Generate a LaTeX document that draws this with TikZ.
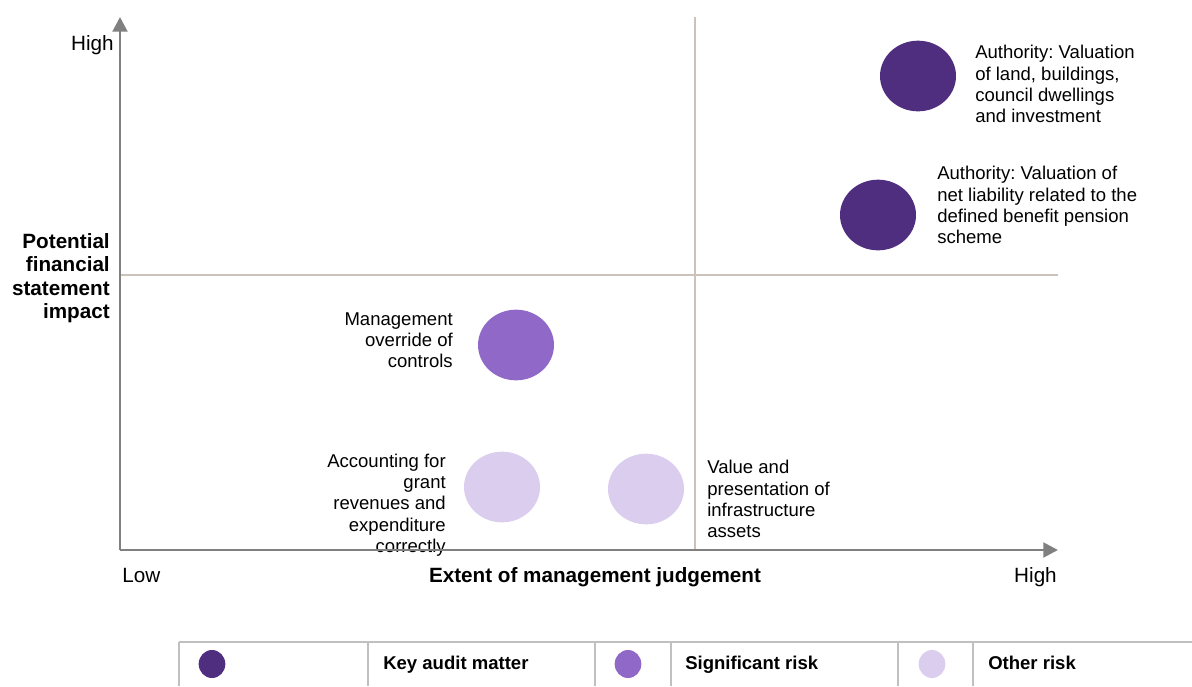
\documentclass[tikz,border=0pt]{standalone}
\usepackage{fontspec}
\setmainfont{Liberation Sans}
\frenchspacing
\usetikzlibrary{arrows.meta,shapes.geometric}
\definecolor{kamPurple}{HTML}{4F2D7F}
\definecolor{sigPurple}{HTML}{9069C8}
\definecolor{otherPurple}{HTML}{DBCDEE}
\definecolor{axisGrey}{HTML}{808080}
\definecolor{quadGrey}{HTML}{CBC3BA}
\definecolor{legendGrey}{HTML}{C0C0C0}

\begin{document}
\begin{tikzpicture}[x=0.75pt,y=-0.75pt,>={Triangle[length=11pt,width=11pt]},
    risk node/.style={ellipse,inner sep=0pt,minimum width=57pt,minimum height=53pt},
    dot node/.style={ellipse,inner sep=0pt,minimum width=20pt,minimum height=21pt},
    risk text/.style={inner sep=0pt,font=\fontsize{13.9}{15.9}\selectfont},
    axis text/.style={inner sep=0pt,font=\fontsize{15.5}{17.6}\selectfont},
    legend text/.style={inner sep=0pt,anchor=base west,font=\fontsize{13.9}{15.9}\selectfont\bfseries},
    axis/.style={->,draw=axisGrey,line width=2.2pt},
    quadrant/.style={draw=quadGrey,line width=1.1pt}]
    \useasboundingbox (0,0) rectangle (1192,686);

    % quadrants
    \coordinate (midTop) at (695,17);
    \coordinate (midBot) at (695,550);
    \coordinate (midLeft) at (120,275);
    \coordinate (midRight) at (1058,275);
    \draw[quadrant] (midTop) -- (midBot);
    \draw[quadrant] (midLeft) -- (midRight);

    % risks
    \node[risk node,fill=kamPurple] (kam1) at (918,76) {};
    \node[risk node,fill=kamPurple] (kam2) at (878,215) {};
    \node[risk node,fill=sigPurple] (mgmt) at (516,345) {};
    \node[risk node,fill=otherPurple] (grant) at (502,487) {};
    \node[risk node,fill=otherPurple] (infra) at (646,489) {};

    \node[risk text,align=left,anchor=west] (kam1Text) at (975,84)
        {Authority: Valuation\\of land, buildings,\\council dwellings\\and investment};
    \node[risk text,align=left,anchor=west] (kam2Text) at (937,205)
        {Authority: Valuation of\\net liability related to the\\defined benefit pension\\scheme};
    \node[risk text,align=right,anchor=east] (mgmtText) at (453,340)
        {Management\\override of\\controls};
    \node[risk text,align=right,anchor=east] (grantText) at (446,505)
        {Accounting for\\grant\\revenues and\\expenditure\\correctly};
    \node[risk text,align=left,anchor=west] (infraText) at (707,499)
        {Value and\\presentation of\\infrastructure\\assets};

    % axes
    \coordinate (origin) at (120,550);
    \coordinate (yTop) at (120,17);
    \coordinate (xEnd) at (1058,550);
    \draw[axis] (origin) -- (yTop);
    \draw[axis] (origin) -- (xEnd);

    \node[axis text,anchor=base east] (yHigh) at (114,50) {High};
    \node[axis text,align=right,anchor=east,font=\fontsize{15.5}{17.6}\selectfont\bfseries] (yTitle) at (110,278)
        {Potential\\financial\\statement\\impact};
    \node[axis text,anchor=base west] (xLow) at (122,582) {Low};
    \node[axis text,anchor=base,font=\fontsize{15.5}{17.6}\selectfont\bfseries] (xTitle) at (595,582)
        {Extent of management judgement};
    \node[axis text,anchor=base east] (xHigh) at (1057,582) {High};

    % legend
    \draw[legendGrey,line width=1.1pt] (179,642) -- (1192,642);
    \foreach \lx in {179,368,595,671,898,973}
        \draw[legendGrey,line width=1.1pt] (\lx,642) -- (\lx,686);
    \node[dot node,fill=kamPurple] (kamDot) at (212,664) {};
    \node[legend text] (kamLabel) at (383,669) {Key audit matter};
    \node[dot node,fill=sigPurple] (sigDot) at (628,664) {};
    \node[legend text] (sigLabel) at (685,669) {Significant risk};
    \node[dot node,fill=otherPurple] (otherDot) at (932,664) {};
    \node[legend text] (otherLabel) at (988,669) {Other risk};
\end{tikzpicture}
\end{document}
